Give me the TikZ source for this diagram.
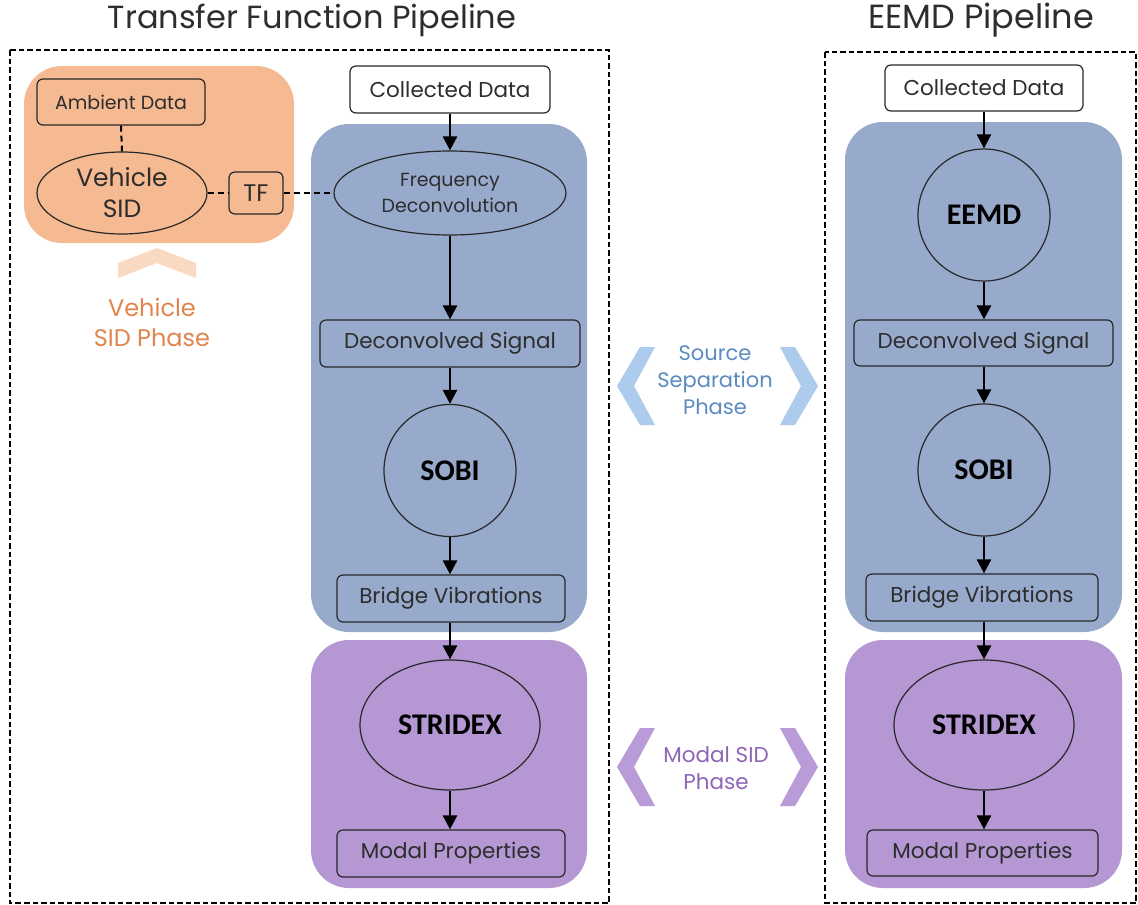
\documentclass[tikz,border=0pt]{standalone}
\usepackage{fontspec}
\setmainfont{Poppins}
\newfontfamily\boldf{Carlito}
\usetikzlibrary{shapes.geometric,arrows.meta}
\definecolor{orangebg}{RGB}{245,186,146}
\definecolor{orangechev}{RGB}{250,217,195}
\definecolor{orangetxt}{RGB}{226,132,78}
\definecolor{bluebg}{RGB}{151,170,204}
\definecolor{bluechev}{RGB}{173,203,236}
\definecolor{bluetxt}{RGB}{91,139,192}
\definecolor{purplebg}{RGB}{180,151,211}
\definecolor{purplechev}{RGB}{185,155,216}
\definecolor{purpletxt}{RGB}{143,101,184}
\definecolor{edge}{RGB}{40,40,40}
\definecolor{txt}{RGB}{45,45,45}
\begin{document}
\begin{tikzpicture}[x=1pt,y=-1pt,
  fs/.style={font=\fontsize{#1}{#1}\selectfont},
  box/.style={draw=edge, line width=1.2pt, rounded corners=6pt, inner sep=0pt, align=center, text=txt},
  ell/.style={draw=edge, line width=1.2pt, ellipse, inner sep=0pt, align=center, text=txt},
  bold/.style={font=\boldf\bfseries\fontsize{30}{30}\selectfont, text=black},
  circ/.style={draw=edge, line width=1.2pt, circle, inner sep=0pt, minimum size=132pt, bold},
  container/.style={rounded corners=38pt, inner sep=0pt},
  arr/.style={-{Triangle[length=14pt,width=14pt]}, line width=2.6pt},
  dline/.style={line width=2pt, dash pattern=on 6pt off 4pt},
  outer/.style={draw=black, line width=2.2pt, dash pattern=on 5.5pt off 3pt}
]
\useasboundingbox (0,0) rectangle (1138,905);
\fill[white] (0,0) rectangle (1138,905);

% titles
\node[fs=32, text=txt] (t1) at (312,20) {Transfer Function Pipeline};
\node[fs=33.5, text=txt] (t2) at (981,20) {EEMD Pipeline};

% outer dashed frames
\draw[outer] (10,50) rectangle (609,903);
\draw[outer] (825,52) rectangle (1136,903);

% ---------- containers ----------
\node[container, fill=orangebg, minimum width=270pt, minimum height=177pt] (vphase) at (159,154.5) {};
\node[container, fill=bluebg, minimum width=276pt, minimum height=508pt] (sep1) at (449,378) {};
\node[container, fill=purplebg, minimum width=276pt, minimum height=248pt] (mod1) at (449,764) {};
\node[container, fill=bluebg, minimum width=277pt, minimum height=510pt] (sep2) at (983.5,377) {};
\node[container, fill=purplebg, minimum width=277pt, minimum height=248pt] (mod2) at (983.5,764) {};

% ---------- chevrons ----------
\fill[orangechev] (118,263) -- (157,248) -- (196,263) -- (196,278) -- (157,263) -- (118,278) -- cycle;
\fill[bluechev] (617,386) -- (640,347) -- (655,347) -- (634,386) -- (655,425) -- (640,425) -- cycle;
\fill[bluechev] (818,386) -- (795,347) -- (780,347) -- (801,386) -- (780,425) -- (795,425) -- cycle;
\fill[purplechev] (617,767) -- (640,728) -- (655,728) -- (634,767) -- (655,806) -- (640,806) -- cycle;
\fill[purplechev] (818,767) -- (795,728) -- (780,728) -- (801,767) -- (780,806) -- (795,806) -- cycle;

% phase labels
\node[fs=24, text=orangetxt, align=center] (vlab) at (152,322) {Vehicle\\[6pt]SID Phase};
\node[fs=21, text=bluetxt, align=center] (slab) at (715,380) {Source\\[6pt]Separation\\[6pt]Phase};
\node[fs=21.5, text=purpletxt, align=center] (mlab) at (716,768) {Modal SID\\[5pt]Phase};

% ---------- vehicle SID ----------
\node[box, fill=orangebg, minimum width=168pt, minimum height=46pt, fs=19] (amb) at (121,102) {Ambient Data};
\node[ell, fill=orangebg, minimum width=170pt, minimum height=82pt, fs=25] (vsid) at (122,193) {Vehicle\\[6pt]SID};
\node[box, fill=orangebg, minimum width=54pt, minimum height=42pt, fs=24] (tf) at (256,193) {TF};

% ---------- left pipeline ----------
\node[box, fill=white, minimum width=200pt, minimum height=47pt, fs=21.5] (cd1) at (450,89.5) {Collected Data};
\node[ell, fill=bluebg, minimum width=232pt, minimum height=84pt, fs=19] (fd) at (450,193) {Frequency\\[5pt]Deconvolution};
\node[box, fill=bluebg, minimum width=260pt, minimum height=47pt, fs=21.5] (ds1) at (450,343.5) {Deconvolved Signal};
\node[circ, fill=bluebg] (sobi1) at (450,470.5) {SOBI};
\node[box, fill=bluebg, minimum width=228pt, minimum height=47pt, fs=21.5] (bv1) at (451,598.5) {Bridge Vibrations};
\node[ell, fill=purplebg, minimum width=180pt, minimum height=130pt, bold] (st1) at (450,725) {STRIDEX};
\node[box, fill=purplebg, minimum width=228pt, minimum height=47pt, fs=21.5] (mp1) at (451,853.5) {Modal Properties};

% ---------- right pipeline ----------
\node[box, fill=white, minimum width=198pt, minimum height=46pt, fs=21.5] (cd2) at (984,88) {Collected Data};
\node[circ, fill=bluebg] (eemd) at (984,215) {EEMD};
\node[box, fill=bluebg, minimum width=259pt, minimum height=46pt, fs=21.5] (ds2) at (983.5,343) {Deconvolved Signal};
\node[circ, fill=bluebg] (sobi2) at (984,470) {SOBI};
\node[box, fill=bluebg, minimum width=232pt, minimum height=47pt, fs=21.5] (bv2) at (982,597.5) {Bridge Vibrations};
\node[ell, fill=purplebg, minimum width=180pt, minimum height=130pt, bold] (st2) at (984,725) {STRIDEX};
\node[box, fill=purplebg, minimum width=231pt, minimum height=46pt, fs=21.5] (mp2) at (982.5,853) {Modal Properties};

% ---------- dashed links ----------
\draw[dline] (amb.south) -- (vsid.north);
\draw[dline] (vsid.east) -- (tf.west);
\draw[dline] (tf.east) -- (fd.west);

% ---------- arrows ----------
\draw[arr] (cd1.south) -- (fd.north);
\draw[arr] (fd.south) -- (ds1.north);
\draw[arr] (ds1.south) -- (sobi1.north);
\draw[arr] (sobi1.south) -- (bv1.north -| sobi1.south);
\draw[arr] (bv1.south -| st1.north) -- (st1.north);
\draw[arr] (st1.south) -- (mp1.north -| st1.south);

\draw[arr] (cd2.south -| eemd.north) -- (eemd.north);
\draw[arr] (eemd.south) -- (ds2.north -| eemd.south);
\draw[arr] (ds2.south -| sobi2.north) -- (sobi2.north);
\draw[arr] (sobi2.south) -- (bv2.north -| sobi2.south);
\draw[arr] (bv2.south -| st2.north) -- (st2.north);
\draw[arr] (st2.south) -- (mp2.north -| st2.south);
\end{tikzpicture}
\end{document}
